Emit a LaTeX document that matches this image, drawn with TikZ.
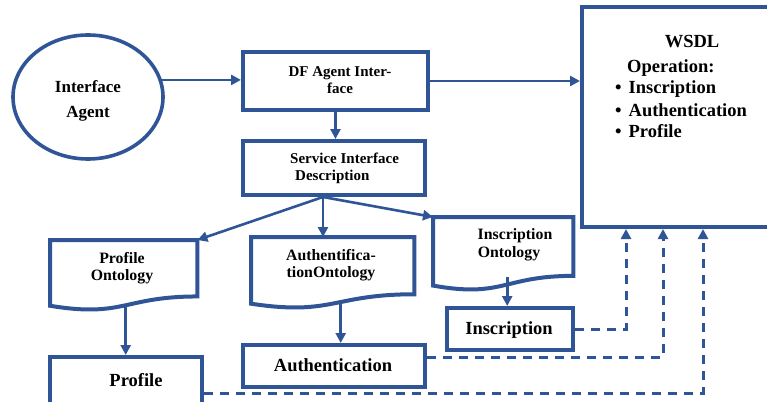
\documentclass[tikz,border=0pt]{standalone}
\usepackage{fontspec}
\setmainfont{Liberation Serif}
\usetikzlibrary{arrows.meta,calc,shapes.geometric}
\definecolor{navy}{HTML}{2F5597}

% flowchart "document" outline drawn around an invisible rectangle node
\newcommand\docwave[1]{%
  \draw[frame] let \p1=(#1.north west), \p2=(#1.south east) in
    (\p1) -- (\x2,\y1) -- (\x2,{\y1+0.802*(\y2-\y1)})
    .. controls ({0.5*(\x1+\x2)},{\y1+0.802*(\y2-\y1)})
            and ({0.5*(\x1+\x2)},{\y1+1.107*(\y2-\y1)})
    .. (\x1,{\y1+0.934*(\y2-\y1)}) -- cycle;}

\begin{document}
\begin{tikzpicture}[x=1pt,y=-1pt,
  frame/.style={draw=navy, line width=4pt},
  boxnode/.style={frame, rectangle, inner sep=0pt},
  holder/.style={rectangle, inner sep=0pt, anchor=north west},
  arr/.style={draw=navy, line width=2.6pt, -{Triangle[length=10pt,width=10pt]}},
  dasharr/.style={arr, line width=3pt, dash pattern=on 9pt off 7pt},
  lbl/.style={align=center, inner sep=0pt, text=black},
  f15/.style={font=\fontsize{15}{17}\selectfont\bfseries},
  f16/.style={font=\fontsize{15.8}{17.5}\selectfont\bfseries},
  f17/.style={font=\fontsize{17}{25}\selectfont\bfseries},
  f18/.style={font=\fontsize{18.5}{21}\selectfont\bfseries}
]
\useasboundingbox (0,0) rectangle (767,401);
\clip (0,0) rectangle (767,401);

% agent ellipse
\node[frame, ellipse, minimum width=150pt, minimum height=124pt, inner sep=0pt,
      line width=3.6pt] (ia) at (88,97) {};
\node[lbl, f17] at (88,101) {Interface\\Agent};

% rectangular boxes
\node[boxnode, minimum width=185pt, minimum height=58pt] (df) at (335.5,81) {};
\node[lbl, f15] at (340,80) {DF Agent Inter-\\face};

\node[boxnode, minimum width=182pt, minimum height=54pt] (sid) at (334,168) {};
\node[lbl, f15, align=left, anchor=west] at (290,168) {Service Interface\\\hspace{5pt}Description};

\node[boxnode, minimum width=210pt, minimum height=220pt] (ws) at (687,117) {};
\node[lbl, f18] at (692,42) {WSDL};
\node[lbl, f18, anchor=west] at (627,68) {Operation:};
\foreach \y/\t in {89/Inscription,110/Authentication,131/Profile}{
  \node[lbl, f18, anchor=west] at (615,\y) {\textbullet\hspace{7pt}\t};
}

% document-shaped ontology boxes
\node[holder, minimum width=147pt, minimum height=70pt] (po) at (50,240) {};
\docwave{po}
\node[lbl, f16] at (122,268) {Profile\\Ontology};

\node[holder, minimum width=163pt, minimum height=71pt] (ao) at (251,237) {};
\docwave{ao}
\node[lbl, f16] at (331,265) {Authentifica-\\tionOntology};

\node[holder, minimum width=140pt, minimum height=73pt] (io) at (433,217) {};
\docwave{io}
\node[lbl, f16] at (509,245) {\hspace{12pt}Inscription\\Ontology};

% operation boxes
\node[boxnode, minimum width=152pt, minimum height=48pt] (pr) at (126,381) {};
\node[lbl, f18] at (136,380) {Profile};
\node[boxnode, minimum width=182pt, minimum height=42pt] (au) at (334,366) {};
\node[lbl, f18] at (333,365) {Authentication};
\node[boxnode, minimum width=126pt, minimum height=42pt] (in) at (510,329) {};
\node[lbl, f18] at (509,330) {Inscription};

% solid connectors
\draw[arr] (ia.13) -- (ia.13 -| df.west);
\draw[arr] (df.east) -- (df.east -| ws.west);
\draw[arr] (df.south) -- (df.south |- sid.north);
\coordinate (fork) at ([xshift=-11pt]sid.south);
\draw[arr] (fork) -- (po.north east);
\draw[arr] (fork) -- (fork |- ao.north);
\draw[arr] (fork) -- (io.north west);
\coordinate (po-out) at ([xshift=2pt,yshift=5pt]po.south);
\coordinate (ao-out) at ([xshift=8pt,yshift=6pt]ao.south);
\coordinate (io-out) at ([xshift=4pt,yshift=13pt]io.south);
\draw[arr] (po-out) -- (po-out |- pr.north);
\draw[arr] (ao-out) -- (ao-out |- au.north);
\draw[arr] (io-out) -- (io-out |- in.north);

% dashed links up to the WSDL box
\coordinate (w1) at ([xshift=46pt]ws.south west);
\coordinate (w2) at ([xshift=83pt]ws.south west);
\coordinate (w3) at ([xshift=123pt]ws.south west);
\draw[dasharr] (in.east) -| (w1);
\draw[dasharr] ([yshift=9pt]au.east) -| (w2);
\draw[dasharr] ([yshift=-12pt]pr.east) -| (w3);
\end{tikzpicture}
\end{document}
